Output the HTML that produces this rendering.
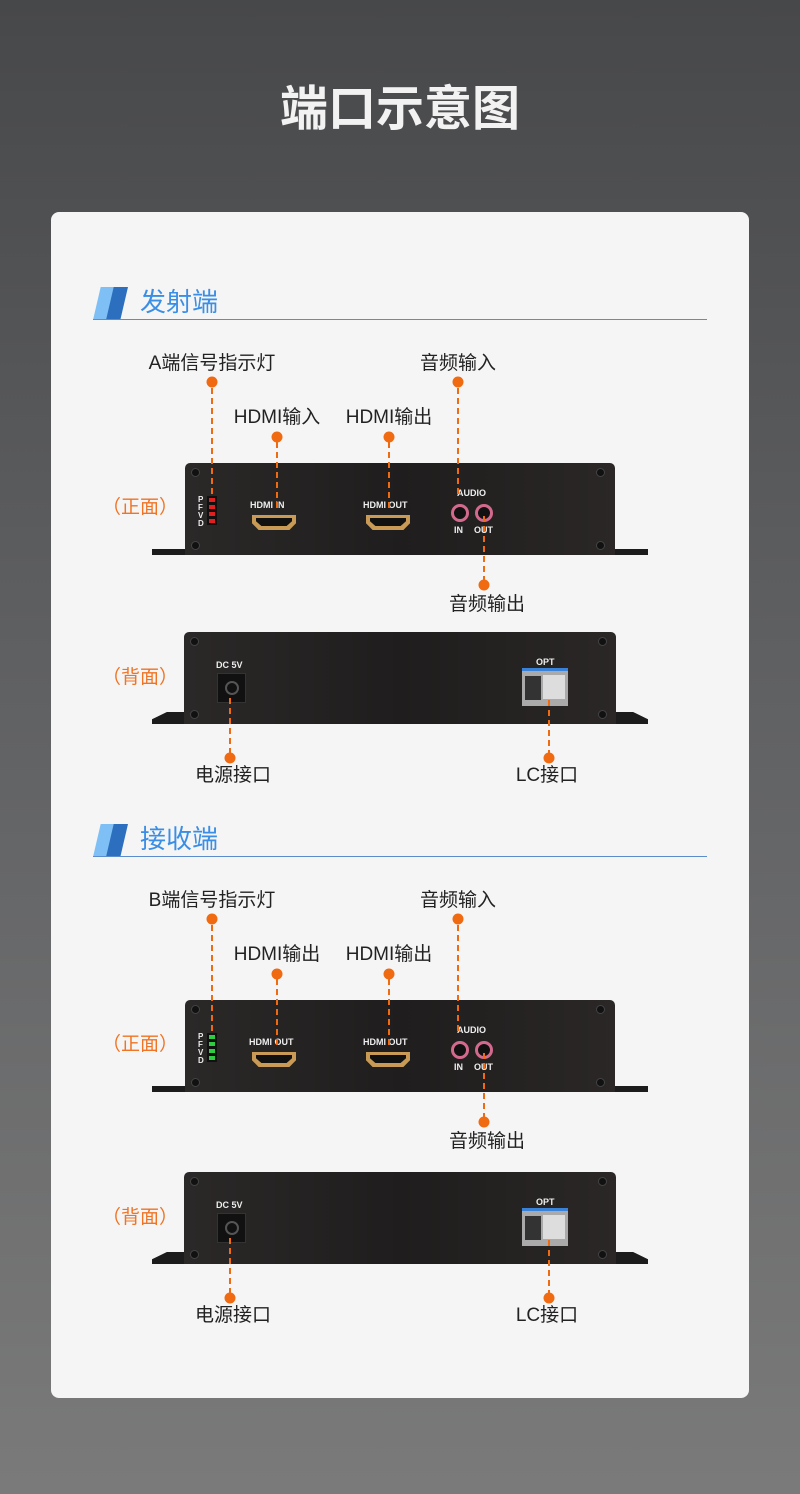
<!DOCTYPE html>
<html><head><meta charset="utf-8"><style>
*{margin:0;padding:0;box-sizing:border-box}
body{width:800px;height:1494px;background:linear-gradient(#47484a,#5d5e60 40%,#7a7a7a);position:relative;overflow:hidden;font-family:"Liberation Sans","Noto Sans CJK SC",sans-serif}
.a{position:absolute}
.t{position:absolute;white-space:nowrap;transform:translateX(-50%);color:#222;font-size:19px;line-height:20px}
.or{color:#f07424;font-size:19px}
.dot{position:absolute;width:11px;height:11px;border-radius:50%;background:#f06a12;transform:translate(-50%,-50%)}
.dl{position:absolute;width:2px;background:repeating-linear-gradient(#f06a12 0 6px,transparent 6px 10px)}
.body{position:absolute;background:linear-gradient(90deg,#2b2828,#1f1d1d 50%,#2a2726);border-radius:5px 5px 0 0}
.fl{position:absolute;background:#1c1c1c}
.scr{position:absolute;width:9px;height:9px;border-radius:50%;background:#111;border:1px solid #444}
.wl{position:absolute;color:#eee;font-size:9px;font-weight:bold;white-space:nowrap}
.hd{position:absolute;width:44px;height:15px;background:#c89a55;clip-path:polygon(0 0,100% 0,100% 55%,85% 100%,15% 100%,0 55%)}
.hd::after{content:"";position:absolute;left:4px;top:3px;width:36px;height:8px;background:#111;clip-path:polygon(0 0,100% 0,100% 40%,85% 100%,15% 100%,0 40%)}
.jk{position:absolute;width:18px;height:18px;border-radius:50%;background:#111;border:3px solid #d36a8e}
.led{position:absolute;width:10px;height:29px;background:#111}
.led i{display:block;width:6px;height:4px;margin:2px 2px 3px}
</style></head><body>
<div class="t" style="left:400px;top:84px;font-size:48px;line-height:52px;font-weight:bold;color:#f2f2f2">端口示意图</div>
<div class="a" style="left:51px;top:212px;width:698px;height:1186px;background:#f5f5f5;border-radius:8px"></div>

<div class="a" style="left:0;top:0;width:800px;height:800px">
<div class="a" style="left:93px;top:287px;width:22px;height:33px;background:#7ec0f5;clip-path:polygon(35% 0,100% 0,65% 100%,0 100%)"></div>
<div class="a" style="left:106px;top:287px;width:22px;height:33px;background:#2c6fbf;clip-path:polygon(35% 0,100% 0,65% 100%,0 100%)"></div>
<div class="a" style="left:140px;top:287px;font-size:26px;line-height:30px;color:#3a8ee6">发射端</div>
<div class="a" style="left:93px;top:319px;width:614px;height:1px;background:#5b8ccc"></div>
</div>

<div class="a" style="left:0;top:537px;width:800px;height:800px">
<div class="a" style="left:93px;top:287px;width:22px;height:33px;background:#7ec0f5;clip-path:polygon(35% 0,100% 0,65% 100%,0 100%)"></div>
<div class="a" style="left:106px;top:287px;width:22px;height:33px;background:#2c6fbf;clip-path:polygon(35% 0,100% 0,65% 100%,0 100%)"></div>
<div class="a" style="left:140px;top:287px;font-size:26px;line-height:30px;color:#3a8ee6">接收端</div>
<div class="a" style="left:93px;top:319px;width:614px;height:1px;background:#5b8ccc"></div>
</div>

<div class="a" style="left:0;top:0;width:800px;height:600px">
<div class="fl" style="left:152px;top:549px;width:496px;height:6px"></div>
<div class="body" style="left:185px;top:463px;width:430px;height:92px"></div>
<div class="scr" style="left:191px;top:468px"></div><div class="scr" style="left:596px;top:468px"></div>
<div class="scr" style="left:191px;top:541px"></div><div class="scr" style="left:596px;top:541px"></div>
<div class="wl" style="left:198px;top:496px;line-height:8px;font-size:8px">P<br>F<br>V<br>D</div>
<div class="led" style="left:207px;top:496px"><i style="background:#e02020"></i><i style="background:#e02020"></i><i style="background:#e02020"></i><i style="background:#e02020"></i></div>
<div class="wl" style="left:250px;top:500px">HDMI IN</div>
<div class="hd" style="left:252px;top:515px"></div>
<div class="wl" style="left:363px;top:500px">HDMI OUT</div>
<div class="hd" style="left:366px;top:515px"></div>
<div class="wl" style="left:457px;top:488px">AUDIO</div>
<div class="jk" style="left:451px;top:504px"></div><div class="jk" style="left:475px;top:504px"></div>
<div class="wl" style="left:454px;top:525px">IN</div><div class="wl" style="left:474px;top:525px">OUT</div>
<div class="t" style="left:140px;top:498px" ><span class="or">（正面）</span></div>
</div>
<div class="dl" style="left:211px;top:388px;height:110px"></div><div class="dot" style="left:212px;top:382px"></div>
<div class="t" style="left:212px;top:354px">A端信号指示灯</div>
<div class="dl" style="left:276px;top:442px;height:70px"></div><div class="dot" style="left:277px;top:437px"></div>
<div class="t" style="left:277px;top:408px">HDMI输入</div>
<div class="dl" style="left:388px;top:442px;height:70px"></div><div class="dot" style="left:389px;top:437px"></div>
<div class="t" style="left:389px;top:408px">HDMI输出</div>
<div class="dl" style="left:457px;top:388px;height:106px"></div><div class="dot" style="left:458px;top:382px"></div>
<div class="t" style="left:458px;top:354px">音频输入</div>
<div class="dl" style="left:483px;top:516px;height:66px"></div><div class="dot" style="left:484px;top:585px"></div>
<div class="t" style="left:487px;top:595px">音频输出</div>

<div class="fl" style="left:152px;top:712px;width:496px;height:12px;clip-path:polygon(3% 0,97% 0,100% 60%,100% 100%,0 100%,0 60%)"></div>
<div class="body" style="left:184px;top:632px;width:432px;height:92px"></div>
<div class="scr" style="left:190px;top:637px"></div><div class="scr" style="left:598px;top:637px"></div>
<div class="scr" style="left:190px;top:710px"></div><div class="scr" style="left:598px;top:710px"></div>
<div class="wl" style="left:216px;top:660px">DC 5V</div>
<div class="a" style="left:217px;top:673px;width:29px;height:30px;background:#111;border:1px solid #333"><div class="a" style="left:7px;top:7px;width:14px;height:14px;border-radius:50%;border:2px solid #555"></div></div>
<div class="wl" style="left:536px;top:657px">OPT</div>
<div class="a" style="left:522px;top:668px;width:46px;height:38px;background:#aaa;border-top:3px solid #3a82d8"><div class="a" style="left:3px;top:5px;width:16px;height:24px;background:#333"></div><div class="a" style="left:21px;top:4px;width:22px;height:24px;background:#ddd"></div></div>
<div class="t" style="left:140px;top:668px"><span class="or">（背面）</span></div>
<div class="dl" style="left:229px;top:698px;height:56px"></div><div class="dot" style="left:230px;top:758px"></div>
<div class="t" style="left:233px;top:766px">电源接口</div>
<div class="dl" style="left:548px;top:700px;height:54px"></div><div class="dot" style="left:549px;top:758px"></div>
<div class="t" style="left:547px;top:766px">LC接口</div>

<div class="fl" style="left:152px;top:1086px;width:496px;height:6px"></div>
<div class="body" style="left:185px;top:1000px;width:430px;height:92px"></div>
<div class="scr" style="left:191px;top:1005px"></div><div class="scr" style="left:596px;top:1005px"></div>
<div class="scr" style="left:191px;top:1078px"></div><div class="scr" style="left:596px;top:1078px"></div>
<div class="wl" style="left:198px;top:1033px;line-height:8px;font-size:8px">P<br>F<br>V<br>D</div>
<div class="led" style="left:207px;top:1033px"><i style="background:#2ecc40"></i><i style="background:#2ecc40"></i><i style="background:#2ecc40"></i><i style="background:#2ecc40"></i></div>
<div class="wl" style="left:249px;top:1037px">HDMI OUT</div>
<div class="hd" style="left:252px;top:1052px"></div>
<div class="wl" style="left:363px;top:1037px">HDMI OUT</div>
<div class="hd" style="left:366px;top:1052px"></div>
<div class="wl" style="left:457px;top:1025px">AUDIO</div>
<div class="jk" style="left:451px;top:1041px"></div><div class="jk" style="left:475px;top:1041px"></div>
<div class="wl" style="left:454px;top:1062px">IN</div><div class="wl" style="left:474px;top:1062px">OUT</div>
<div class="t" style="left:140px;top:1035px"><span class="or">（正面）</span></div>
<div class="dl" style="left:211px;top:925px;height:110px"></div><div class="dot" style="left:212px;top:919px"></div>
<div class="t" style="left:212px;top:891px">B端信号指示灯</div>
<div class="dl" style="left:276px;top:979px;height:70px"></div><div class="dot" style="left:277px;top:974px"></div>
<div class="t" style="left:277px;top:945px">HDMI输出</div>
<div class="dl" style="left:388px;top:979px;height:70px"></div><div class="dot" style="left:389px;top:974px"></div>
<div class="t" style="left:389px;top:945px">HDMI输出</div>
<div class="dl" style="left:457px;top:925px;height:106px"></div><div class="dot" style="left:458px;top:919px"></div>
<div class="t" style="left:458px;top:891px">音频输入</div>
<div class="dl" style="left:483px;top:1053px;height:66px"></div><div class="dot" style="left:484px;top:1122px"></div>
<div class="t" style="left:487px;top:1132px">音频输出</div>

<div class="fl" style="left:152px;top:1252px;width:496px;height:12px;clip-path:polygon(3% 0,97% 0,100% 60%,100% 100%,0 100%,0 60%)"></div>
<div class="body" style="left:184px;top:1172px;width:432px;height:92px"></div>
<div class="scr" style="left:190px;top:1177px"></div><div class="scr" style="left:598px;top:1177px"></div>
<div class="scr" style="left:190px;top:1250px"></div><div class="scr" style="left:598px;top:1250px"></div>
<div class="wl" style="left:216px;top:1200px">DC 5V</div>
<div class="a" style="left:217px;top:1213px;width:29px;height:30px;background:#111;border:1px solid #333"><div class="a" style="left:7px;top:7px;width:14px;height:14px;border-radius:50%;border:2px solid #555"></div></div>
<div class="wl" style="left:536px;top:1197px">OPT</div>
<div class="a" style="left:522px;top:1208px;width:46px;height:38px;background:#aaa;border-top:3px solid #3a82d8"><div class="a" style="left:3px;top:5px;width:16px;height:24px;background:#333"></div><div class="a" style="left:21px;top:4px;width:22px;height:24px;background:#ddd"></div></div>
<div class="t" style="left:140px;top:1208px"><span class="or">（背面）</span></div>
<div class="dl" style="left:229px;top:1238px;height:56px"></div><div class="dot" style="left:230px;top:1298px"></div>
<div class="t" style="left:233px;top:1306px">电源接口</div>
<div class="dl" style="left:548px;top:1240px;height:54px"></div><div class="dot" style="left:549px;top:1298px"></div>
<div class="t" style="left:547px;top:1306px">LC接口</div>
</body></html>
